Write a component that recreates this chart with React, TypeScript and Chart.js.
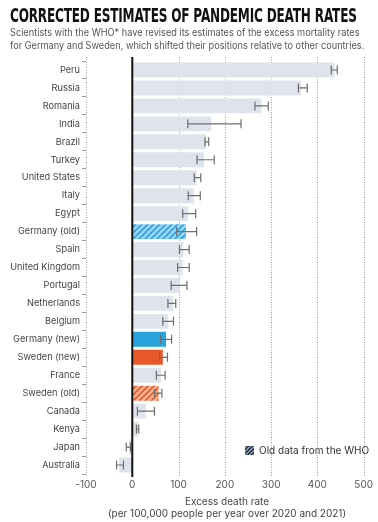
import React, { useEffect, useRef } from "react";
import { Chart, registerables } from "chart.js";

Chart.register(...registerables);

const countries = ["Peru", "Russia", "Romania", "India", "Brazil", "Turkey", "United States", "Italy", "Egypt", "Germany (old)", "Spain", "United Kingdom", "Portugal", "Netherlands", "Belgium", "Germany (new)", "Sweden (new)", "France", "Sweden (old)", "Canada", "Kenya", "Japan", "Australia"];
const rates = [437, 365, 279, 171, 160, 155, 139, 133, 121, 116, 110, 109, 102, 88, 78, 73, 66, 62, 57, 29, 13, -7, -28];
const errLow = [430, 359, 265, 120, 157, 140, 134, 121, 109, 96, 102, 98, 84, 77, 66, 61, 59, 52, 48, 11, 9, -13, -34];
const errHigh = [443, 378, 294, 235, 165, 177, 148, 147, 137, 139, 123, 123, 118, 94, 89, 85, 76, 71, 64, 48, 14, -4, -19];
const xTicks = [-100, 0, 100, 200, 300, 400, 500];

const FONT = "Inter, 'Noto Sans', sans-serif";

function hatch(bg: string, fg: string) {
  const c = document.createElement("canvas");
  c.width = 6;
  c.height = 6;
  const g = c.getContext("2d")!;
  g.fillStyle = bg;
  g.fillRect(0, 0, 6, 6);
  g.strokeStyle = fg;
  g.lineWidth = 1.6;
  g.beginPath();
  g.moveTo(0, 6); g.lineTo(6, 0);
  g.moveTo(-3, 3); g.lineTo(3, -3);
  g.moveTo(3, 9); g.lineTo(9, 3);
  g.stroke();
  return g.createPattern(c, "repeat")!;
}

function fit(el: HTMLElement | null, width: number) {
  if (!el) return;
  el.style.transform = `scaleX(${width / el.offsetWidth})`;
}

export default function App() {
  const canvasRef = useRef<HTMLCanvasElement>(null);
  const titleRef = useRef<HTMLSpanElement>(null);
  const sub1Ref = useRef<HTMLSpanElement>(null);
  const sub2Ref = useRef<HTMLSpanElement>(null);

  useEffect(() => {
    document.body.style.margin = "0";
    fit(titleRef.current, 347);
    fit(sub1Ref.current, 350);
    fit(sub2Ref.current, 354);
    const ctx = canvasRef.current!.getContext("2d")!;
    const colors = countries.map((c) => {
      if (c === "Germany (new)") return "#29a3dc";
      if (c === "Sweden (new)") return "#e8592a";
      if (c === "Germany (old)") return hatch("#9fd4f0", "#2fa4de");
      if (c === "Sweden (old)") return hatch("#f6b595", "#e8592a");
      return "#dee3ec";
    });

    const gridPlugin = {
      id: "gridLines",
      beforeDatasetsDraw(chart: any) {
        const { ctx, chartArea, scales } = chart;
        ctx.save();
        ctx.strokeStyle = "#9a9a9a";
        ctx.lineWidth = 1;
        ctx.setLineDash([1, 1.5]);
        xTicks.forEach((v) => {
          if (v === 0) return;
          const x = Math.round(scales.x.getPixelForValue(v)) + 0.5;
          ctx.beginPath();
          ctx.moveTo(x, chartArea.top - 4);
          ctx.lineTo(x, chartArea.bottom + 3);
          ctx.stroke();
        });
        ctx.restore();
      },
      afterDatasetsDraw(chart: any) {
        const { ctx, chartArea, scales } = chart;
        ctx.save();
        ctx.strokeStyle = "#6e6e6e";
        ctx.lineWidth = 1.2;
        countries.forEach((_, i) => {
          const y = scales.y.getPixelForValue(i);
          const x1 = scales.x.getPixelForValue(errLow[i]);
          const x2 = scales.x.getPixelForValue(errHigh[i]);
          ctx.beginPath();
          ctx.moveTo(x1, y); ctx.lineTo(x2, y);
          ctx.moveTo(x1, y - 4.5); ctx.lineTo(x1, y + 4.5);
          ctx.moveTo(x2, y - 4.5); ctx.lineTo(x2, y + 4.5);
          ctx.stroke();
        });
        const x0 = scales.x.getPixelForValue(0);
        ctx.strokeStyle = "#111";
        ctx.lineWidth = 2;
        ctx.beginPath();
        ctx.moveTo(x0, chartArea.top - 4);
        ctx.lineTo(x0, chartArea.bottom + 3);
        ctx.stroke();
        ctx.restore();
      },
    };

    const chart = new Chart(ctx, {
      type: "bar",
      data: {
        labels: countries,
        datasets: [
          {
            data: rates,
            backgroundColor: colors as any,
            barPercentage: 0.83,
            categoryPercentage: 1,
          },
        ],
      },
      plugins: [gridPlugin],
      options: {
        indexAxis: "y",
        responsive: false,
        animation: false,
        layout: { padding: { top: 61, right: 10, left: 0, bottom: 0 } },
        plugins: { legend: { display: false }, tooltip: { enabled: false } },
        scales: {
          x: {
            min: -100,
            max: 500,
            afterBuildTicks: (s: any) => { s.ticks = xTicks.map((v) => ({ value: v })); },
            afterFit: (s: any) => { s.height = 48; },
            grid: { display: false, drawTicks: false },
            border: { display: false },
            ticks: { padding: 5, color: "#555", font: { family: FONT, size: 10 } },
          },
          y: {
            afterFit: (s: any) => { s.width = 86; },
            grid: { drawOnChartArea: false, drawTicks: true, tickLength: 4, color: "#999" },
            border: { display: false },
            ticks: { padding: 2, color: "#444", font: { family: FONT, size: 9.2 } },
          },
        },
      },
    });
    return () => chart.destroy();
  }, []);

  const sub: React.CSSProperties = { display: "inline-block", transformOrigin: "left center", whiteSpace: "nowrap" };

  return (
    <div style={{ position: "relative", width: 378, height: 522, background: "#fff", overflow: "hidden", fontFamily: FONT }}>
      <canvas ref={canvasRef} width={378} height={522} style={{ position: "absolute", left: 0, top: 0, display: "block" }} />
      <div style={{ position: "absolute", left: 10, top: 3, whiteSpace: "nowrap" }}>
        <span ref={titleRef} style={{ display: "inline-block", transformOrigin: "left center", fontFamily: "'DejaVu Sans', Roboto, sans-serif", fontWeight: 700, fontSize: 19, letterSpacing: -0.3, color: "#111", lineHeight: "24px" }}>
          CORRECTED ESTIMATES OF PANDEMIC DEATH RATES
        </span>
      </div>
      <div style={{ position: "absolute", left: 10, top: 26, fontSize: 10, lineHeight: "12.5px", color: "#555" }}>
        <span ref={sub1Ref} style={sub}>Scientists with the WHO* have revised its estimates of the excess mortality rates</span>
        <br />
        <span ref={sub2Ref} style={sub}>for Germany and Sweden, which shifted their positions relative to other countries.</span>
      </div>
      <div style={{ position: "absolute", left: 245, top: 444, display: "flex", alignItems: "center", fontSize: 10, color: "#333" }}>
        <span style={{ display: "inline-block", width: 9, height: 9, marginRight: 5, background: "repeating-linear-gradient(135deg, #8592a8 0 1.5px, #2f3d52 1.5px 3px)" }} />
        Old data from the WHO
      </div>
      <div style={{ position: "absolute", left: 86, width: 282, top: 495, textAlign: "center", fontSize: 10, lineHeight: "12px", color: "#444" }}>
        Excess death rate<br />(per 100,000 people per year over 2020 and 2021)
      </div>
    </div>
  );
}
